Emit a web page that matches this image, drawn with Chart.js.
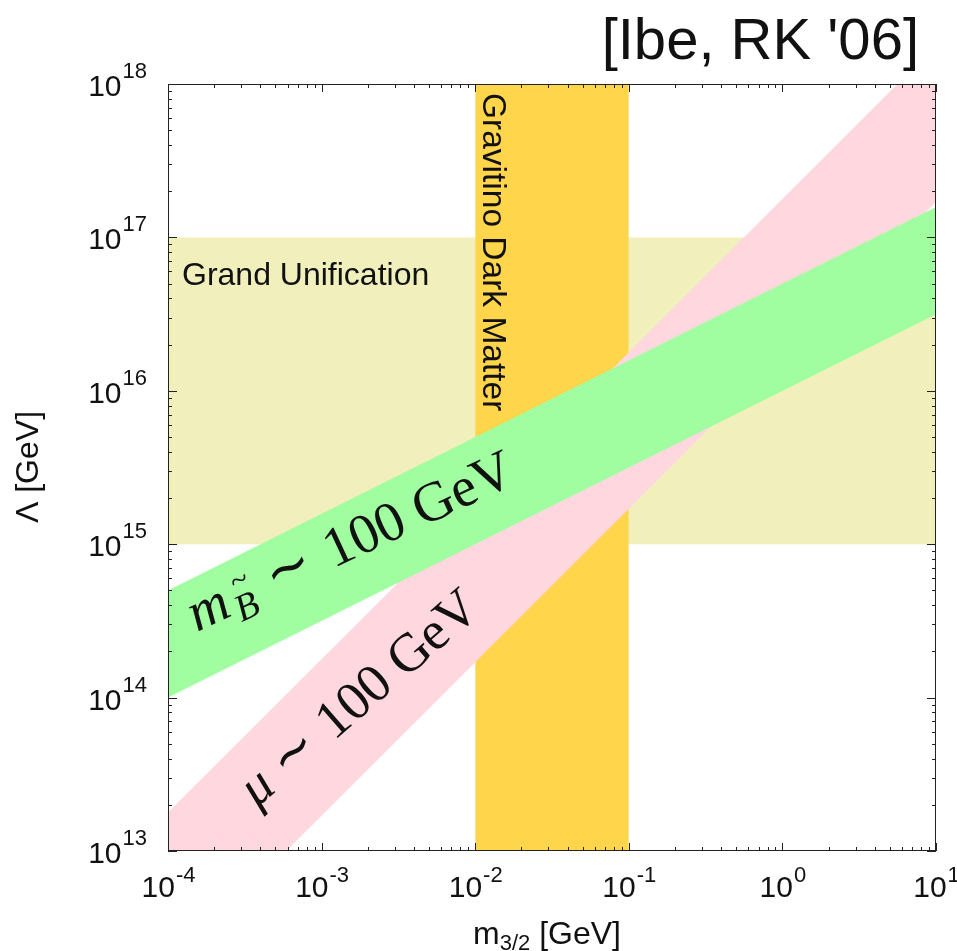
<!DOCTYPE html>
<html><head><meta charset="utf-8">
<script src="https://cdn.jsdelivr.net/npm/chart.js@4/dist/chart.umd.min.js"></script>
<style>html,body{margin:0;padding:0;background:#fff;}#wrap{width:957px;height:951px;}</style>
</head><body><div id="wrap"><canvas id="c" width="957" height="951"></canvas></div>
<script>
// ---- data ----
const xLimits = [1e-4, 10];          // m_3/2 [GeV]
const yLimits = [1e13, 1e18];        // Lambda [GeV]
const xTickExponents = [-4, -3, -2, -1, 0, 1];
const yTickExponents = [13, 14, 15, 16, 17, 18];
const gutBand = [1e15, 1e17];        // Grand Unification range of Lambda
const gravitinoBand = [1e-2, 1e-1];  // Gravitino Dark Matter range of m_3/2
const bandX = [1e-4, 10];            // x values of band edge points
const binoLower = [1.0e14, 3.16e16];
const binoUpper = [5.0e14, 1.58e17];
const muLower = [1.7e12, 1.7e17];
const muUpper = [1.78e13, 1.78e18];

const pts = (xs, ys) => xs.map((x, i) => ({x: x, y: ys[i]}));

const decor = {
  id: 'decor',
  afterDatasetsDraw(chart) {
    const ctx = chart.ctx, a = chart.chartArea;
    const sx = chart.scales.x, sy = chart.scales.y;
    const sans = '"Liberation Sans", Arial, sans-serif';
    ctx.save();
    // band labels
    ctx.fillStyle = '#111';
    ctx.font = '32px ' + sans;
    ctx.textBaseline = 'alphabetic';
    ctx.textAlign = 'left';
    ctx.fillText('Grand Unification', 182, 285);
    // gravitino label, rotated clockwise
    ctx.save();
    ctx.translate(483, 93);
    ctx.rotate(Math.PI / 2);
    ctx.font = '33.5px ' + sans;
    ctx.fillText('Gravitino Dark Matter', 0, 0);
    ctx.restore();

    // m_B ~ 100 GeV
    const serif = '"Liberation Serif", "Times New Roman", serif';
    ctx.save();
    ctx.translate(197, 632);
    ctx.rotate(-25 * Math.PI / 180);
    ctx.font = 'italic 56px ' + serif;
    ctx.fillText('m', 0, 0);
    let w = ctx.measureText('m').width + 4;
    ctx.font = 'italic 38px ' + serif;
    ctx.fillText('B', w, 10);
    ctx.font = '32px ' + serif;
    ctx.fillText('~', w + 7, -19);
    ctx.font = 'italic 38px ' + serif;
    w += ctx.measureText('B').width + 18;
    ctx.font = '56px ' + serif;
    ctx.fillText('\u223C', w, -2);
    w += ctx.measureText('\u223C').width + 18;
    ctx.fillText('100 GeV', w, 0);
    ctx.restore();

    // mu ~ 100 GeV
    ctx.save();
    ctx.translate(257, 808);
    ctx.rotate(-41 * Math.PI / 180);
    ctx.font = 'italic 54px ' + serif;
    ctx.fillText('\u03BC', 0, 0);
    w = ctx.measureText('\u03BC').width + 14;
    ctx.font = '54px ' + serif;
    ctx.fillText('\u223C', w, -2);
    w += ctx.measureText('\u223C').width + 16;
    ctx.fillText('100 GeV', w, 0);
    ctx.restore();

    // frame
    ctx.strokeStyle = '#222';
    ctx.lineWidth = 1;
    ctx.strokeRect(a.left + 0.5, a.top + 0.5, a.right - a.left - 1, a.bottom - a.top - 1);
    // ticks
    ctx.beginPath();
    for (let d = xTickExponents[0]; d <= xTickExponents[xTickExponents.length - 1]; d++) {
      for (let k = 1; k <= 9; k++) {
        const v = k * Math.pow(10, d);
        if (v > xLimits[1] * 1.0001) break;
        const px = Math.round(sx.getPixelForValue(v)) + 0.5;
        const len = k === 1 ? 8 : 4;
        ctx.moveTo(px, a.bottom); ctx.lineTo(px, a.bottom - len);
        ctx.moveTo(px, a.top); ctx.lineTo(px, a.top + len);
      }
    }
    for (let d = yTickExponents[0]; d <= yTickExponents[yTickExponents.length - 1]; d++) {
      for (let k = 1; k <= 9; k++) {
        const v = k * Math.pow(10, d);
        if (v > yLimits[1] * 1.0001) break;
        const py = Math.round(sy.getPixelForValue(v)) + 0.5;
        const len = k === 1 ? 9 : 4;
        ctx.moveTo(a.left, py); ctx.lineTo(a.left + len, py);
        ctx.moveTo(a.right, py); ctx.lineTo(a.right - len, py);
      }
    }
    ctx.stroke();

    // tick labels
    ctx.fillStyle = '#111';
    const big = '30px ' + sans;
    const small = '22px ' + sans;
    xTickExponents.forEach(e => {
      const px = sx.getPixelForValue(Math.pow(10, e));
      ctx.font = big; const w1 = ctx.measureText('10').width;
      ctx.font = small; const w2 = ctx.measureText(String(e)).width;
      const x0 = px - (w1 + w2) / 2;
      ctx.font = big; ctx.textAlign = 'left';
      ctx.fillText('10', x0, 897);
      ctx.font = small;
      ctx.fillText(String(e), x0 + w1 + 1, 882);
    });
    yTickExponents.forEach(e => {
      const py = sy.getPixelForValue(Math.pow(10, e));
      ctx.font = small; const w2 = ctx.measureText(String(e)).width;
      const xr = a.left - 21;
      ctx.textAlign = 'left';
      ctx.fillText(String(e), xr - w2, py - 6);
      ctx.font = big; const w1 = ctx.measureText('10').width;
      ctx.fillText('10', xr - w2 - w1 - 1, py + 12);
    });

    // axis titles
    const tbig = '32px ' + sans, tsmall = '22px ' + sans;
    ctx.font = tbig;
    ctx.textAlign = 'left';
    ctx.fillText('m', 473, 944);
    let tx = 473 + ctx.measureText('m').width;
    ctx.font = tsmall;
    ctx.fillText('3/2', tx, 950);
    tx += ctx.measureText('3/2').width;
    ctx.font = tbig;
    ctx.fillText(' [GeV]', tx, 944);

    ctx.save();
    ctx.translate(38, 467);
    ctx.rotate(-Math.PI / 2);
    ctx.textAlign = 'center';
    ctx.fillText('\u039B [GeV]', 0, 0);
    ctx.restore();

    // citation
    ctx.font = '58px ' + sans;
    ctx.textAlign = 'right';
    ctx.fillText("[Ibe, RK '06]", 919, 59);
    ctx.restore();
  }
};

new Chart(document.getElementById('c'), {
  type: 'scatter',
  data: {
    datasets: [
      {data: pts(bandX, binoUpper), showLine: true, fill: '+1', backgroundColor: '#a0fda0', borderWidth: 0, pointRadius: 0, order: 0},
      {data: pts(bandX, binoLower), showLine: true, fill: false, borderWidth: 0, pointRadius: 0, order: 0},
      {data: pts(bandX, muUpper), showLine: true, fill: '+1', backgroundColor: '#ffd7de', borderWidth: 0, pointRadius: 0, order: 1},
      {data: pts(bandX, muLower), showLine: true, fill: false, borderWidth: 0, pointRadius: 0, order: 1},
      {data: pts(gravitinoBand, [yLimits[1], yLimits[1]]), showLine: true, fill: {value: yLimits[0]}, backgroundColor: '#ffd54c', borderWidth: 0, pointRadius: 0, order: 2},
      {data: pts(bandX, [gutBand[1], gutBand[1]]), showLine: true, fill: {value: gutBand[0]}, backgroundColor: '#f1f0bd', borderWidth: 0, pointRadius: 0, order: 3}
    ]
  },
  options: {
    responsive: false,
    animation: false,
    layout: {padding: {left: 168, top: 84, right: 21, bottom: 100}},
    plugins: {legend: {display: false}, tooltip: {enabled: false}},
    scales: {
      x: {type: 'logarithmic', min: xLimits[0], max: xLimits[1], display: false},
      y: {type: 'logarithmic', min: yLimits[0], max: yLimits[1], display: false}
    }
  },
  plugins: [decor]
});
</script></body></html>
